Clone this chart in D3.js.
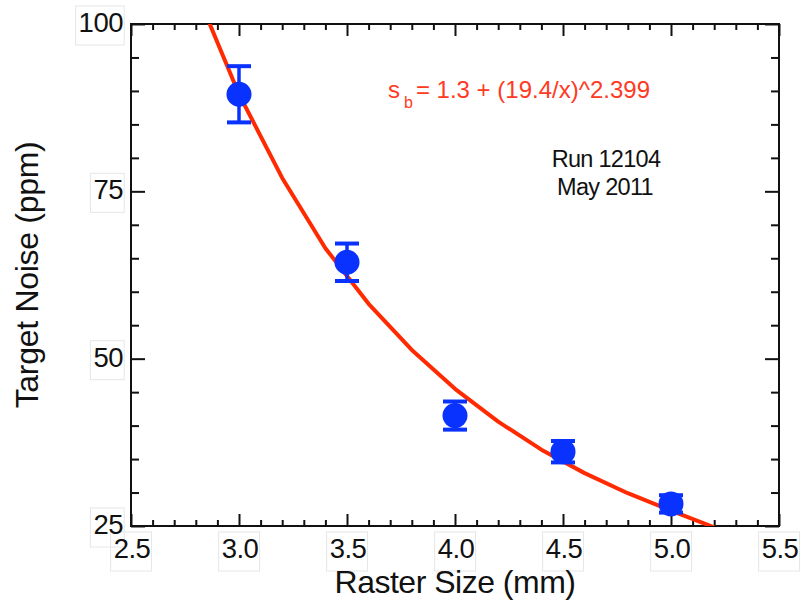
<!DOCTYPE html>
<html>
<head>
<meta charset="utf-8">
<script src="https://cdn.jsdelivr.net/npm/d3@7.9.0/dist/d3.min.js"></script>
<style>
  html, body { margin: 0; padding: 0; background: #fff; }
  text { font-family: "Liberation Sans", Arial, Helvetica, sans-serif; }
</style>
</head>
<body>
<div id="chart"></div>
<script>
// data
const rasterSize = [3.0, 3.5, 4.0, 4.5, 5.0];
const targetNoise = [89.5, 64.4, 41.5, 36.1, 28.3];
const noiseErr = [4.2, 2.8, 2.1, 1.6, 1.3];

// fit line, sampled where the drawn curve bends
const fitX = [2.8, 3.0, 3.2, 3.4, 3.6, 3.8, 4.0, 4.2, 4.4, 4.6, 4.8, 5.0, 5.2];
const fitY = [105, 89.5, 77, 66.5, 58.2, 51.3, 45.5, 40.6, 36.4, 32.9, 29.9, 27.3, 24.8];

const xTicks = [2.5, 3.0, 3.5, 4.0, 4.5, 5.0, 5.5];
const yTicks = [25, 50, 75, 100];

// config
const width = 801,
  height = 602;
const margin = { top: 24, right: 22, bottom: 76, left: 131 };
const innerW = width - margin.left - margin.right,
  innerH = height - margin.top - margin.bottom;

const svg = d3
  .select("#chart")
  .append("svg")
  .attr("width", width)
  .attr("height", height);

const x = d3.scaleLinear().domain([2.5, 5.5]).range([margin.left, margin.left + innerW]);
const y = d3.scaleLinear().domain([25, 100]).range([margin.top + innerH, margin.top]);

const xMinor = d3.range(2.6, 5.45, 0.1).filter((v) => Math.abs(v * 2 - Math.round(v * 2)) > 0.01);
const yMinor = d3.range(30, 100, 5).filter((v) => v % 25 !== 0);

// ticks on all four sides, pointing inward
function tickAxis(axis, values, size, transform) {
  const g = svg
    .append("g")
    .attr("transform", transform)
    .call(axis.tickValues(values).tickSize(size).tickSizeOuter(0).tickFormat(""));
  g.select(".domain").remove();
  g.selectAll("line").attr("stroke", "#111").attr("stroke-width", 2);
}
const bottomY = margin.top + innerH,
  rightX = margin.left + innerW;
tickAxis(d3.axisBottom(x), xTicks, -12, `translate(0,${bottomY})`);
tickAxis(d3.axisBottom(x), xMinor, -6, `translate(0,${bottomY})`);
tickAxis(d3.axisTop(x), xTicks, -12, `translate(0,${margin.top})`);
tickAxis(d3.axisTop(x), xMinor, -6, `translate(0,${margin.top})`);
tickAxis(d3.axisLeft(y), yTicks, -14, `translate(${margin.left},0)`);
tickAxis(d3.axisLeft(y), yMinor, -8, `translate(${margin.left},0)`);
tickAxis(d3.axisRight(y), yTicks, -14, `translate(${rightX},0)`);
tickAxis(d3.axisRight(y), yMinor, -8, `translate(${rightX},0)`);

// frame
svg
  .append("rect")
  .attr("x", margin.left)
  .attr("y", margin.top)
  .attr("width", innerW)
  .attr("height", innerH)
  .attr("fill", "none")
  .attr("stroke", "#111")
  .attr("stroke-width", 2);

// tick labels, with the faint boxes seen round them
const labels = svg.append("g").style("font-size", "27.5px").attr("fill", "#111");
labels
  .selectAll(".ylab")
  .data(yTicks)
  .join("text")
  .attr("class", "ylab")
  .attr("x", margin.left - 8)
  .attr("y", (d) => y(d) + 8)
  .attr("text-anchor", "end")
  .attr("letter-spacing", "-0.5")
  .text((d) => d);
labels
  .selectAll(".xlab")
  .data(xTicks)
  .join("text")
  .attr("class", "xlab")
  .attr("x", (d) => x(d) + 1)
  .attr("y", bottomY + 32)
  .attr("text-anchor", "middle")
  .attr("letter-spacing", "-0.5")
  .text((d) => d3.format(".1f")(d));
labels.selectAll("text").each(function () {
  const b = this.getBBox();
  labels
    .insert("rect", "text")
    .attr("x", b.x - 3)
    .attr("y", b.y - 1)
    .attr("width", b.width + 4)
    .attr("height", b.height + 8)
    .attr("fill", "none")
    .attr("stroke", "#e6e6e6")
    .attr("stroke-width", 1);
});

// axis titles
svg
  .append("text")
  .attr("x", x(4.0))
  .attr("y", 593)
  .attr("text-anchor", "middle")
  .style("font-size", "32px")
  .attr("letter-spacing", "-0.5")
  .attr("fill", "#111")
  .text("Raster Size (mm)");

svg
  .append("text")
  .attr("transform", `translate(38,${(margin.top + bottomY) / 2}) rotate(-90)`)
  .attr("text-anchor", "middle")
  .style("font-size", "32px")
  .attr("letter-spacing", "-0.3")
  .attr("fill", "#111")
  .text("Target Noise (ppm)");

// fit curve, clipped to the plot area
svg
  .append("clipPath")
  .attr("id", "plot-clip")
  .append("rect")
  .attr("x", margin.left)
  .attr("y", margin.top)
  .attr("width", innerW)
  .attr("height", innerH);

const line = d3
  .line()
  .x((d, i) => x(fitX[i]))
  .y((d) => y(d));

svg
  .append("path")
  .datum(fitY)
  .attr("clip-path", "url(#plot-clip)")
  .attr("d", line)
  .attr("fill", "none")
  .attr("stroke", "#ff2a00")
  .attr("stroke-width", 4)
  .attr("stroke-linejoin", "round");

// error bars and points
const blue = "#0a32ff";
const pts = svg
  .append("g")
  .selectAll("g")
  .data(rasterSize)
  .join("g");
pts
  .append("line")
  .attr("x1", (d) => x(d))
  .attr("x2", (d) => x(d))
  .attr("y1", (d, i) => y(targetNoise[i] + noiseErr[i]))
  .attr("y2", (d, i) => y(targetNoise[i] - noiseErr[i]))
  .attr("stroke", blue)
  .attr("stroke-width", 3.5);
pts
  .selectAll(".cap")
  .data((d, i) => [
    [d, targetNoise[i] + noiseErr[i]],
    [d, targetNoise[i] - noiseErr[i]],
  ])
  .join("line")
  .attr("class", "cap")
  .attr("x1", (d) => x(d[0]) - 12)
  .attr("x2", (d) => x(d[0]) + 12)
  .attr("y1", (d) => y(d[1]))
  .attr("y2", (d) => y(d[1]))
  .attr("stroke", blue)
  .attr("stroke-width", 4);
pts
  .append("circle")
  .attr("cx", (d) => x(d))
  .attr("cy", (d, i) => y(targetNoise[i]))
  .attr("r", 12.5)
  .attr("fill", blue);

// fit formula and run info
const formula = svg
  .append("text")
  .attr("x", 388)
  .attr("y", 98)
  .attr("fill", "#ff3a22")
  .style("font-size", "24px");
formula.append("tspan").text("s");
formula.append("tspan").attr("dx", 4).attr("dy", 10).style("font-size", "16px").text("b");
formula.append("tspan").attr("dx", 3).attr("dy", -10).text("= 1.3 + (19.4/x)^2.399");

const info = svg
  .append("text")
  .attr("text-anchor", "middle")
  .attr("fill", "#111")
  .style("font-size", "23.5px")
  .attr("letter-spacing", "-0.7");
info.append("tspan").attr("x", 606).attr("y", 167).text("Run 12104");
info.append("tspan").attr("x", 605).attr("y", 195).text("May 2011");
</script>
</body>
</html>
